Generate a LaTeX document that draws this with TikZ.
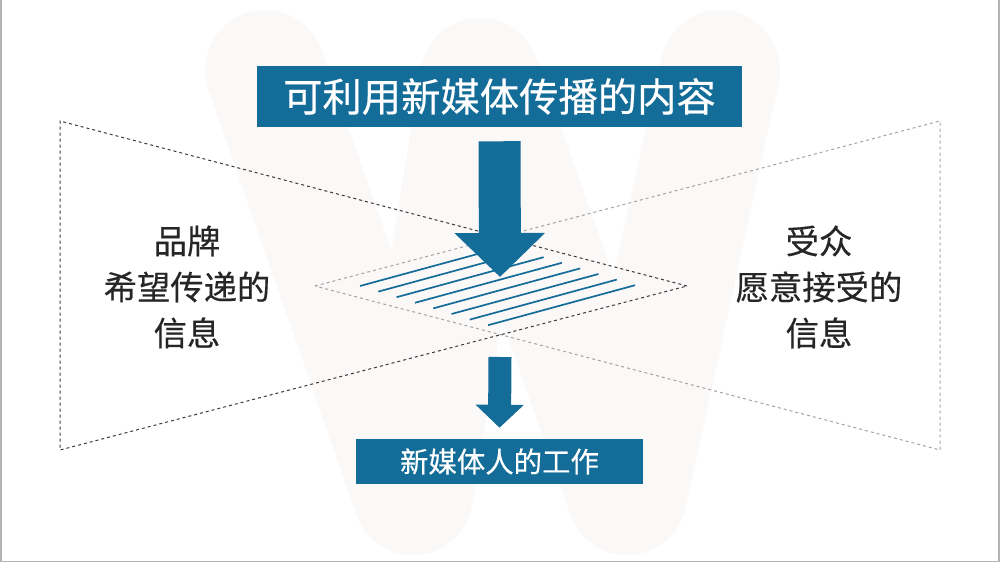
\documentclass[tikz,border=0pt]{standalone}
\usepackage{fontspec}
\setmainfont{Noto Sans CJK SC}[FakeBold=0.4]
\usetikzlibrary{arrows.meta,calc,positioning}
\definecolor{nmblue}{HTML}{146C98}
\definecolor{nmdark}{HTML}{3A3A3A}
\definecolor{nmlight}{HTML}{A3A3A3}
\definecolor{nmtext}{HTML}{262626}
\definecolor{nmmark}{HTML}{FBF8F8}
\definecolor{nmframe}{HTML}{B4B4B4}
\newlength{\px}\setlength{\px}{0.75pt}
\newcommand{\STop}{\fontsize{29.5}{34}\selectfont}
\newcommand{\SSide}{\fontsize{25}{34.5}\selectfont}
\newcommand{\SBot}{\fontsize{21.3}{26}\selectfont}

\begin{document}
\begin{tikzpicture}[x=0.75pt, y=-0.75pt,
  bluebox/.style={fill=nmblue, text=white, inner sep=0pt, align=center},
  sidetext/.style={text=nmtext, align=center, font=\SSide},
  bigarrow/.style={-{Triangle[length=33pt,width=66pt]}, draw=nmblue,
                   line width=31.5pt},
  smallarrow/.style={-{Triangle[length=17.25pt,width=35.25pt]}, draw=nmblue,
                     line width=17.25pt},
  brandedge/.style={draw=nmdark, line width=1\px, dash pattern=on 3\px off 3\px},
  audedge/.style={draw=nmlight, line width=1\px, dash pattern=on 3\px off 3\px},
  hatchline/.style={draw=nmblue, line width=1.7\px},
  wmark/.style={draw=nmmark, line width=120\px, line cap=round, line join=round}
]
\useasboundingbox (0,0) rectangle (1000,563);

% Faint W in the background.
\draw[wmark] (265,70) -- (413,495) -- (480,78) -- (627,495) -- (720,70);

% Slide frame.
\draw[nmframe, line width=1.5\px] (0.75,0) -- (0.75,561.5) -- (999,561.5) -- (999,0);

% The two triangles: brand (left) and audience (right).
\coordinate (bt) at (60,121);
\coordinate (bb) at (60,450);
\coordinate (bapex) at (687,286);
\coordinate (at) at (940,121);
\coordinate (ab) at (940,450);
\coordinate (aapex) at (315,286);
\draw[audedge] (aapex) -- (at) -- (ab) -- cycle;
\draw[brandedge] (bapex) -- (bt) -- (bb) -- cycle;

% Hatching of the overlap.
\foreach \i in {0,...,7}
  \draw[hatchline] ($(360,286)+\i*(18.3,5.6)$) -- ++(147,-40);

% Boxes and side texts.
\node[bluebox, minimum width=485\px, minimum height=61\px, font=\STop]
  (content) at (499.5,96.5) {可利用新媒体传播的内容};
\node[bluebox, minimum width=287\px, minimum height=45\px, font=\SBot]
  (work) at (499.5,461.5) {新媒体人的工作};
\node[sidetext] (brand) at (187,287) {品牌\\希望传递的\\信息};
\node[sidetext] (audience) at (819,287) {受众\\愿意接受的\\信息};

% Arrows.
\coordinate (focus) at (500,277);
\coordinate (split) at (500,357);
\draw[bigarrow] ($(content.south)+(0,14)$) -- (focus);
\draw[smallarrow] (split) -- ($(work.north)+(0,-11)$);
\end{tikzpicture}
\end{document}
